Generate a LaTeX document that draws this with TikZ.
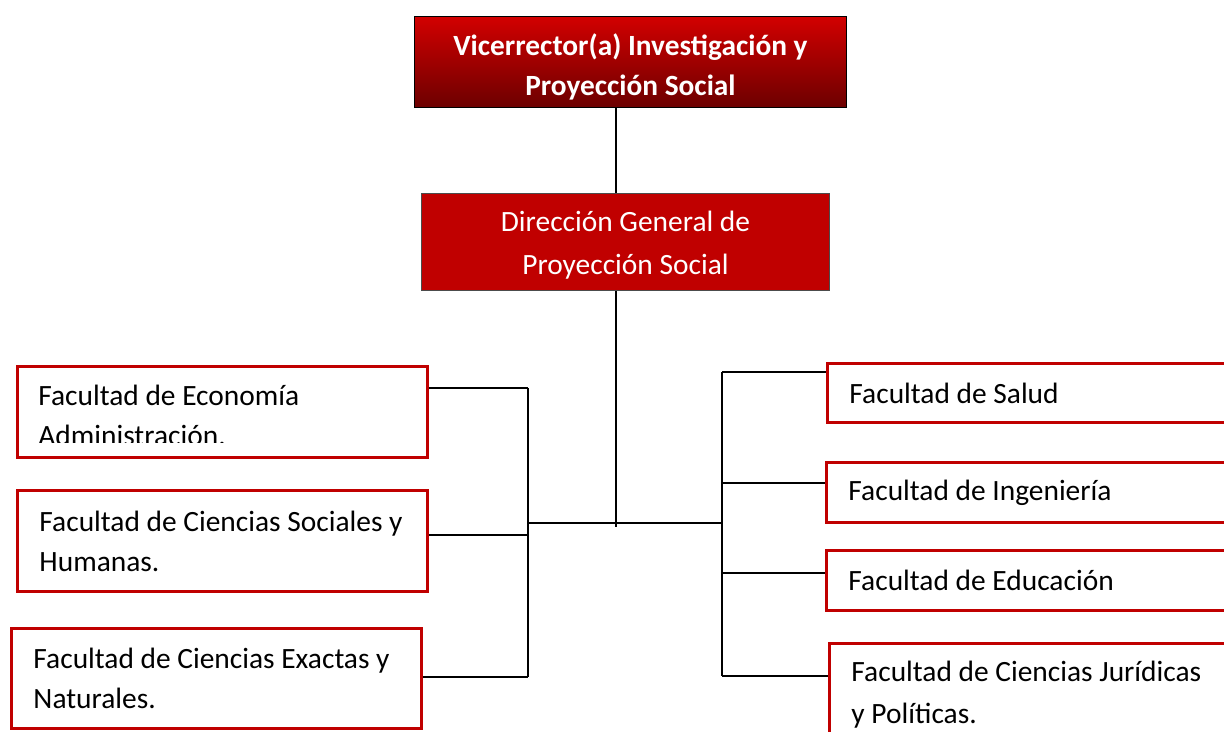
\documentclass[tikz,border=0pt]{standalone}
\usepackage{fontspec}
\setmainfont{Carlito}
\definecolor{boxred}{HTML}{C00000}
\definecolor{gradtop}{HTML}{D20000}
\definecolor{gradbot}{HTML}{6C0000}

\begin{document}
\begin{tikzpicture}[x=0.02cm, y=-0.02cm,
  every node/.style={font=\fontsize{16.75}{22.8}\selectfont},
  headbox/.style={draw=black, line width=0.6pt, top color=gradtop, bottom color=gradbot,
    text=white, font=\fontsize{16.7}{22.8}\selectfont\bfseries, align=center,
    anchor=north west, inner sep=0pt},
  dirbox/.style={draw=black!70, line width=0.6pt, fill=boxred, text=white, align=center,
    anchor=north west, inner sep=0pt},
  facbox/.style={draw=boxred, line width=1.7pt, fill=white, anchor=north west,
    align=flush left, inner xsep=0.44cm, inner ysep=0pt, text width=7.32cm},
  link/.style={line width=0.8pt}]

% Page frame
\useasboundingbox (0,0) rectangle (1224,732);
\clip (0,0) rectangle (1224,732);

% Top level
\node[headbox, minimum width=8.64cm, minimum height=1.82cm] (vice) at (414,16)
  {\rule{0pt}{18pt}Vicerrector(a) Investigación y\\Proyección Social};

% Direction
\node[dirbox, minimum width=8.16cm, minimum height=1.94cm] (dir) at (421,193)
  {\rule{0pt}{15.5pt}Dirección General de\\[1.5pt]Proyección Social};

% Left faculties
\node[facbox, minimum height=1.82cm] (econ) at (16,365) {};
\begin{scope}
  \clip (econ.north west) rectangle (426,443);
  \node[anchor=north west, inner sep=0pt, align=left] (econtxt) at (38,385)
    {Facultad de Economía\\Administración.};
\end{scope}
\node[facbox, minimum height=2.02cm] (soc) at (16,489)
  {Facultad de Ciencias Sociales y\\Humanas.};
\node[facbox, minimum height=2.0cm] (exa) at (10,627)
  {Facultad de Ciencias Exactas y\\Naturales.};

% Right faculties
\node[facbox, minimum height=1.18cm] (salud) at (826,362) {Facultad de Salud};
\node[facbox, minimum height=1.2cm] (ing) at (825,461) {Facultad de Ingeniería};
\node[facbox, minimum height=1.2cm] (edu) at (825,549) {Facultad de Educación};
\node[facbox, minimum height=2.04cm] (jur) at (828,642)
  {Facultad de Ciencias Jurídicas\\[1pt]y Políticas.};

% Junctions
\coordinate (hub) at (616,523);
\coordinate (ltop) at (528,388);
\coordinate (lbot) at (528,677);
\coordinate (rtop) at (722,372);
\coordinate (rbot) at (722,676);

% Trunk lines
\draw[link] (vice.south -| hub) -- (dir.north -| hub);
\draw[link] (dir.south -| hub) -- ([yshift=-2]hub);
\draw[link] (hub -| ltop) -- (hub -| rtop);
\draw[link] (ltop) -- (lbot);
\draw[link] (rtop) -- (rbot);

% Branches left
\draw[link] (econ.east |- ltop) -- (ltop);
\draw[link] (soc.east |- 0,535) -- (ltop |- 0,535);
\draw[link] (exa.east |- lbot) -- (lbot);

% Branches right
\draw[link] (rtop) -- (salud.west |- rtop);
\draw[link] (rtop |- 0,483) -- (ing.west |- 0,483);
\draw[link] (rtop |- 0,573) -- (edu.west |- 0,573);
\draw[link] (rbot) -- (jur.west |- rbot);

\end{tikzpicture}
\end{document}
